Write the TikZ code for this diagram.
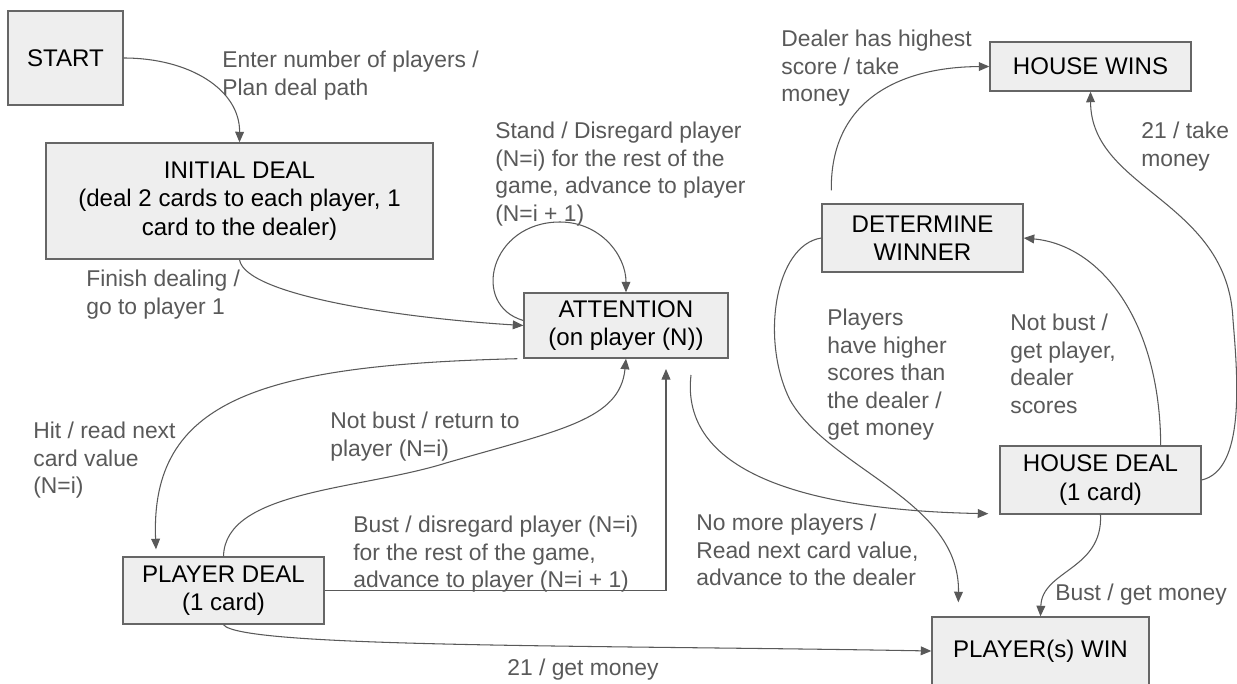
\documentclass[tikz,border=0pt]{standalone}
\usepackage{fontspec}
\setmainfont{Liberation Sans}
\usetikzlibrary{arrows.meta}
\definecolor{linec}{HTML}{595959}
\definecolor{boxfill}{HTML}{EEEEEE}
\definecolor{boxdraw}{HTML}{666666}
\definecolor{labc}{HTML}{595959}
\tikzset{
  state/.style={draw=boxdraw, fill=boxfill, line width=0.8pt, inner sep=0pt, align=center,
    font=\fontsize{13.7}{16.2}\selectfont, text=black},
  lab/.style={anchor=north west, inner sep=0pt, align=left, text=labc,
    font=\fontsize{13}{15.6}\selectfont},
  conn/.style={draw=linec, line width=0.6pt, -{Triangle[length=6pt,width=5pt]}},
}
\begin{document}
\begin{tikzpicture}[x=0.02cm,y=-0.02cm]
\useasboundingbox (0,0) rectangle (1237,683);
\fill[white] (0,0) rectangle (1237,683);

% states
\node[state, minimum width=2.30cm, minimum height=1.88cm] (start) at (65.5,58) {START};
\node[state, minimum width=7.74cm, minimum height=2.32cm] (init) at (239.5,201)
  {INITIAL DEAL\\(deal 2 cards to each player, 1\\card to the dealer)};
\node[state, minimum width=4.08cm, minimum height=1.30cm] (att) at (626,325.5)
  {ATTENTION\\(on player (N))};
\node[state, minimum width=4.02cm, minimum height=1.34cm] (pd) at (223.5,590.5)
  {PLAYER DEAL\\(1 card)};
\node[state, minimum width=4.02cm, minimum height=0.98cm] (hw) at (1090.5,66.5) {HOUSE WINS};
\node[state, minimum width=4.02cm, minimum height=1.36cm] (dw) at (922.5,238)
  {DETERMINE\\WINNER};
\node[state, minimum width=4.02cm, minimum height=1.36cm] (hd) at (1100.5,480)
  {HOUSE DEAL\\(1 card)};
\node[state, minimum width=4.34cm, minimum height=1.36cm] (pw) at (1040.5,651) {PLAYER(s) WIN};

% free ends
\coordinate (bustend) at (666,369);
\coordinate (nomore) at (691,375);

% connectors
\draw[conn] (start.east) .. controls (190,58) and (240,90) .. (init.north);
\draw[conn] (init.south) .. controls (245,295) and (400,318) .. (att.west);
\draw[conn] ([yshift=0.1cm]att.west) .. controls (470,305) and (490,222) .. (560,222)
  .. controls (600,222) and (626,255) .. (att.north);
\draw[conn] ([xshift=-0.12cm]att.south west) .. controls (260,365) and (150,400) .. ([yshift=0.14cm]pd.north -| 156,0);
\draw[conn] (pd.north) .. controls (225,490) and (360,490) .. (446,463)
  .. controls (560,430) and (620,420) .. (att.south);
\draw[conn] (pd.east) -| (bustend);
\draw[conn] (nomore) .. controls (680,470) and (800,510) .. ([xshift=-0.22cm,yshift=0.02cm]hd.south west);
\draw[conn] (pd.south) .. controls (240,648) and (600,645) .. (pw.west);
\draw[conn] (hd.south) .. controls (1103,570) and (1042,570) .. (pw.north);
\draw[conn] ([xshift=-0.82cm]hd.north east) .. controls (1160,320) and (1100,245) .. (dw.east);
\draw[conn] (hd.east) .. controls (1245,470) and (1238,380) .. (1233,320)
  .. controls (1228,200) and (1091,190) .. (hw.south);
\draw[conn] ([xshift=0.2cm,yshift=0.26cm]dw.north west) .. controls (830,100) and (900,67) .. (hw.west);
\draw[conn] (dw.west) .. controls (775,245) and (760,340) .. (790,400)
  .. controls (830,470) and (960,500) .. ([xshift=0.54cm,yshift=0.28cm]pw.north west);

% labels
\node[lab] (l1) at (222,51) {Enter number of players /\\Plan deal path};
\node[lab] (l2) at (86,270) {Finish dealing /\\go to player 1};
\node[lab] (l3) at (495,122) {Stand / Disregard player\\(N=i) for the rest of the\\game, advance to player\\(N=i + 1)};
\node[lab] (l4) at (781,30) {Dealer has highest\\score / take\\money};
\node[lab] (l5) at (1141,122) {21 / take\\money};
\node[lab] (l6) at (827,309) {Players\\have higher\\scores than\\the dealer /\\get money};
\node[lab] (l7) at (1010,314) {Not bust /\\get player,\\dealer\\scores};
\node[lab] (l8) at (696,514) {No more players /\\Read next card value,\\advance to the dealer};
\node[lab] (l9) at (1055,584) {Bust / get money};
\node[lab] (l10) at (33,422) {Hit / read next\\card value\\(N=i)};
\node[lab] (l11) at (330,412) {Not bust / return to\\player (N=i)};
\node[lab] (l12) at (353,516) {Bust / disregard player (N=i)\\for the rest of the game,\\advance to player (N=i + 1)};
\node[lab] (l13) at (507,659) {21 / get money};
\end{tikzpicture}
\end{document}
